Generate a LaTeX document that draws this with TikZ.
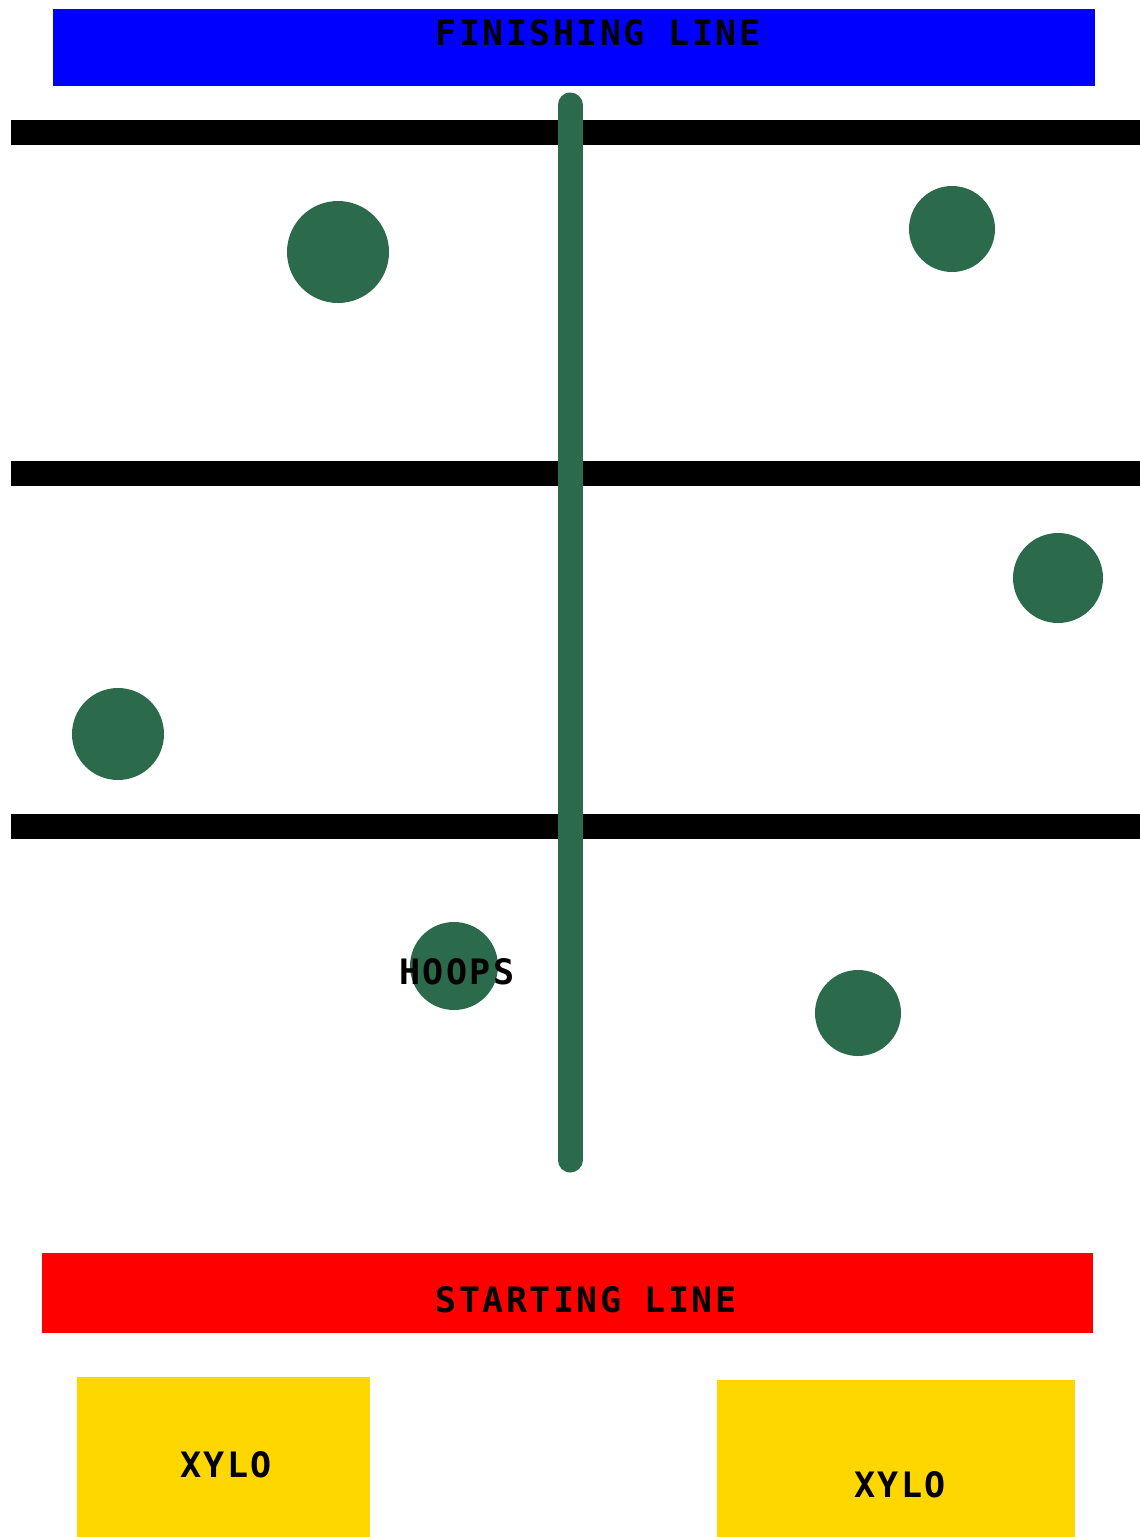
\documentclass[tikz,border=0pt]{standalone}
\usepackage{fontspec}
\newfontfamily\labfont[LetterSpace=7]{DejaVu Sans Mono}
\definecolor{hoopgreen}{HTML}{2B6A4A}
\definecolor{finblue}{HTML}{0000FF}
\definecolor{startred}{HTML}{FF0000}
\definecolor{xylogold}{HTML}{FFD700}
\tikzset{
  lab/.style={font=\labfont\bfseries\fontsize{35}{38}\selectfont, text=black, inner sep=0pt},
  bar/.style={fill=black},
  hoop/.style={fill=hoopgreen},
}
\begin{document}
\begin{tikzpicture}[x=1pt,y=-1pt]
\useasboundingbox (0,0) rectangle (1140,1537);
\fill[white] (0,0) rectangle (1140,1537);
% finishing line
\fill[finblue] (53,9) rectangle (1095,86);
\node[lab] (fin) at (598,33) {FINISHING LINE};
% black bars
\fill[bar] (11,120) rectangle (1140,145);
\fill[bar] (11,461) rectangle (1140,486);
\fill[bar] (11,814) rectangle (1140,839);
% central green line
\coordinate (ltop) at (570,105);
\coordinate (lbot) at (570,1160);
\draw[hoopgreen, line width=25pt, line cap=round] (ltop) -- (lbot);
% hoops
\fill[hoop] (338,252) circle (51);
\fill[hoop] (952,229) circle (43);
\fill[hoop] (1058,578) circle (45);
\fill[hoop] (118,734) circle (46);
\fill[hoop] (454,966) circle (44);
\fill[hoop] (858,1013) circle (43);
\node[lab] (hoops) at (457,972) {HOOPS};
% starting line
\fill[startred] (42,1253) rectangle (1093,1333);
\node[lab] (start) at (586,1300) {STARTING LINE};
% xylo boxes
\fill[xylogold] (77,1377) rectangle (370,1537);
\node[lab] (xa) at (226,1465) {XYLO};
\fill[xylogold] (717,1380) rectangle (1075,1537);
\node[lab] (xb) at (900,1485) {XYLO};
\end{tikzpicture}
\end{document}
